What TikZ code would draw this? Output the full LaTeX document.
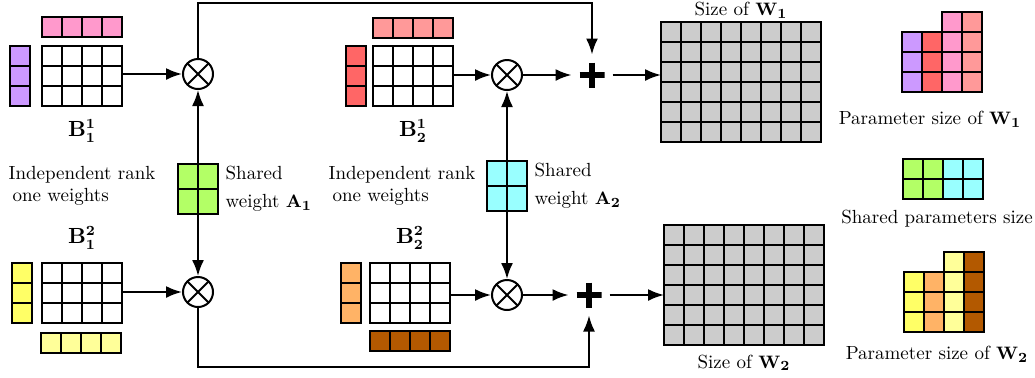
\documentclass[tikz,border=0pt]{standalone}
\usepackage{amsmath,amssymb}
\usepackage{tikz}
\usetikzlibrary{positioning}
\usetikzlibrary{arrows.meta}

\definecolor{pinkB}{HTML}{FF99CC}
\definecolor{purpleB}{HTML}{CC99FF}
\definecolor{redB}{HTML}{FF6666}
\definecolor{salmonB}{HTML}{FF9999}
\definecolor{greenB}{HTML}{B3FF66}
\definecolor{cyanB}{HTML}{99FFFF}
\definecolor{yellowB}{HTML}{FFFF66}
\definecolor{lyellowB}{HTML}{FFFF99}
\definecolor{orangeB}{HTML}{FFB366}
\definecolor{brownB}{HTML}{B35900}
\definecolor{grayB}{HTML}{CCCCCC}

% x, y, cols, rows, cell height, fill
\newcommand{\cellblock}[6]{%
  \foreach \i in {1,...,#3}{
    \foreach \j in {1,...,#4}{
      \draw[cell, fill=#6] ({#1+(\i-1)*20},{#2+(\j-1)*#5}) rectangle ++(20,#5);
    }
  }
}

\begin{document}
\begin{tikzpicture}[x=0.5pt, y=-0.5pt, line width=1pt,
font=\fontsize{9.5}{10}\selectfont,
cell/.style={draw, line width=1pt},
blk/.style={inner sep=0pt, outer sep=0pt},
lbl/.style={font=\fontsize{10.5}{11}\selectfont},
mul/.style={circle, draw, minimum size=15pt, inner sep=0pt,
  path picture={\draw (path picture bounding box.north west) -- (path picture bounding box.south east)
    (path picture bounding box.north east) -- (path picture bounding box.south west);}},
plus/.style={minimum size=12.5pt, inner sep=0pt, outer sep=4pt,
  path picture={\draw[line width=2.6pt] (path picture bounding box.north) -- (path picture bounding box.south)
    (path picture bounding box.west) -- (path picture bounding box.east);}},
arr/.style={-{Latex[length=8pt,width=6pt]}}]
\useasboundingbox (0,0) rectangle (1035,377);

% top branch
\cellblock{42}{17}{4}{1}{20}{pinkB}
\cellblock{10}{46}{1}{3}{20}{purpleB}
\cellblock{42}{46}{4}{3}{20}{white}
\node[blk, minimum width=40pt, minimum height=30pt] (B11) at (82,76) {};
\node[lbl, below=3pt of B11] {$\mathbf{B_1^1}$};

\cellblock{373}{18}{4}{1}{20}{salmonB}
\cellblock{346}{46}{1}{3}{20}{redB}
\cellblock{373}{46}{4}{3}{20}{white}
\node[blk, minimum width=40pt, minimum height=30pt] (B12) at (413,76) {};
\node[lbl, below=3pt of B12] {$\mathbf{B_2^1}$};

\node[mul] (m11) at (198,74) {};
\node[mul] (m12) at (507,75) {};
\node[plus] (p1) at (592,75) {};

% bottom branch
\cellblock{12}{263}{1}{3}{20}{yellowB}
\cellblock{42}{263}{4}{3}{20}{white}
\cellblock{41}{333}{4}{1}{20}{lyellowB}
\node[blk, minimum width=40pt, minimum height=30pt] (B21) at (82,293) {};
\node[lbl, above=3pt of B21] {$\mathbf{B_1^2}$};

\cellblock{341}{263}{1}{3}{20}{orangeB}
\cellblock{370}{263}{4}{3}{20}{white}
\cellblock{370}{331}{4}{1}{20}{brownB}
\node[blk, minimum width=40pt, minimum height=30pt] (B22) at (410,293) {};
\node[lbl, above=3pt of B22] {$\mathbf{B_2^2}$};

\node[mul] (m21) at (198,292) {};
\node[mul] (m22) at (507,295) {};
\node[plus] (p2) at (589,295) {};

% shared weights
\cellblock{178}{164}{2}{2}{25}{greenB}
\node[blk, minimum width=20pt, minimum height=25pt] (A1) at (198,189) {};
\node[anchor=west, align=left] at (A1.east) {Shared\\[4pt]weight $\mathbf{A_1}$};
\cellblock{487}{161}{2}{2}{25}{cyanB}
\node[blk, minimum width=20pt, minimum height=25pt] (A2) at (507,186) {};
\node[anchor=west, align=left] at (A2.east) {Shared\\[4pt]weight $\mathbf{A_2}$};

\node[anchor=west, align=left] at (1,186) {Independent rank\\[1pt]\hspace{2pt}one weights};
\node[anchor=west, align=left] at (321,186) {Independent rank\\[1pt]\hspace{2pt}one weights};

% full weights
\cellblock{661}{22}{8}{6}{20}{grayB}
\node[blk, minimum width=80pt, minimum height=60pt] (W1) at (741,82) {};
\node[anchor=north, inner sep=0.5pt] at (741,0) {Size of $\mathbf{W_1}$};
\cellblock{664}{225}{8}{6}{20}{grayB}
\node[blk, minimum width=80pt, minimum height=60pt] (W2) at (744,285) {};
\node[below=1pt of W2] {Size of $\mathbf{W_2}$};

% parameter counts
\cellblock{942}{12}{1}{4}{20}{pinkB}
\cellblock{962}{12}{1}{4}{20}{salmonB}
\cellblock{902}{32}{1}{3}{20}{purpleB}
\cellblock{922}{32}{1}{3}{20}{redB}
\node (P1) at (930,119) {Parameter size of $\mathbf{W_1}$};
\cellblock{903}{159}{2}{2}{20}{greenB}
\cellblock{943}{159}{2}{2}{20}{cyanB}
\node (S) at (937,219) {Shared parameters size};
\cellblock{944}{252}{1}{4}{20}{lyellowB}
\cellblock{964}{252}{1}{4}{20}{brownB}
\cellblock{904}{272}{1}{3}{20}{yellowB}
\cellblock{924}{272}{1}{3}{20}{orangeB}
\node (P2) at (937,354) {Parameter size of $\mathbf{W_2}$};

% connectors
\coordinate (top) at (0,3);
\coordinate (bot) at (0,367);
\draw[arr] (B11.east |- m11) -- (m11);
\draw[arr] (B12.east |- m12) -- (m12);
\draw[arr] (B21.east |- m21) -- (m21);
\draw[arr] (B22.east |- m22) -- (m22);
\draw[arr] (A1) -- (m11);
\draw[arr] (A1) -- (m21);
\draw[arr] (A2) -- (m12);
\draw[arr] (A2) -- (m22);
\draw[arr] (m12) -- (p1);
\draw[arr] (m22) -- (p2);
\draw[arr] (m11) |- (top -| p1) -- (p1);
\draw[arr] (m21) |- (bot -| p2) -- (p2);
\draw[arr] (p1) -- (W1.west |- p1);
\draw[arr] (p2) -- (W2.west |- p2);
\end{tikzpicture}
\end{document}
